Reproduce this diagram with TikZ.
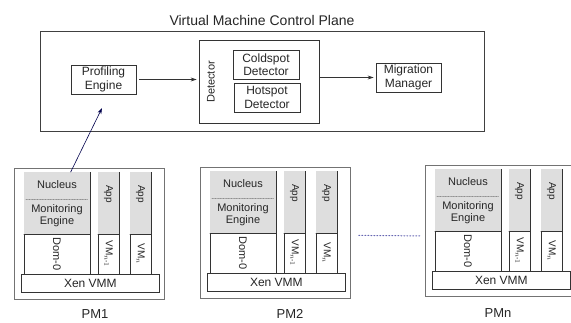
\documentclass[tikz,border=0pt]{standalone}
\usepackage{amsmath}
\usepackage{fontspec}
\setmainfont{Liberation Sans}
\usetikzlibrary{calc, arrows.meta}

\begin{document}
\begin{tikzpicture}[
  x=1pt, y=-1pt,
  line cap=round,
  every node/.style={text=black!85, inner sep=0pt},
  blk/.style={draw=black!80, line width=0.7pt, align=center,
              font=\fontsize{12}{13.5}\selectfont},
  pmframe/.style={draw=black!55, line width=0.8pt},
  col/.style={draw=black!80, line width=0.7pt, fill=white},
  shade/.style={fill=black!13},
  vtext/.style={font=\fontsize{10}{12}\selectfont, rotate=-90},
  arr/.style={-{Stealth[length=6pt, width=4pt]}, line width=0.6pt, black!80},
]

% bounding box = reference size
\useasboundingbox (0,0) rectangle (571,322);

% control plane
\node[font=\fontsize{14}{16}\selectfont] (title) at (262,20) {Virtual Machine Control Plane};
\node[draw=black!75, line width=0.8pt, minimum width=444pt, minimum height=100pt] (plane) at (262,81) {};

\node[blk, minimum width=65pt, minimum height=29pt] (prof) at (103.5,79.5) {Profiling\\Engine};
\node[draw=black!80, line width=0.7pt, minimum width=120pt, minimum height=83pt] (det) at (259,81.5) {};
\node[blk, minimum width=66pt, minimum height=29pt] (cold) at (266,64.5) {Coldspot\\Detector};
\node[blk, minimum width=66pt, minimum height=29pt] (hot) at (267,97.5) {Hotspot\\Detector};
\node[font=\fontsize{11}{13}\selectfont, rotate=90] (detlabel) at (211,82) {Detector};
\node[blk, minimum width=65pt, minimum height=29pt] (mig) at (408.5,77.5) {Migration\\Manager};

\draw[arr, shorten <=3pt, shorten >=2pt] (prof) -- (prof -| det.west);
\draw[arr, shorten >=2pt] (det.east |- mig) -- (mig);

% physical machines
\foreach \ox/\oy/\pm/\lx/\ly in {14/168/1/95/314, 200/167/2/290/314, 425/165/n/498/313} {
  \begin{scope}[shift={(\ox,\oy)}]
    \node[pmframe, anchor=north west, minimum width=150pt, minimum height=131pt] (pm\pm) at (0,0) {};
    % Dom-0
    \node[col, anchor=north west, minimum width=66pt, minimum height=102pt] (dom\pm) at (10,4) {};
    \fill[shade] (10.4,4.4) rectangle (75.6,66);
    \draw[line width=0.7pt, black!80] (10,66) -- (76,66);
    \draw[densely dotted, black!45, line width=0.6pt] (12,31) -- (74,31);
    \node[font=\fontsize{11}{12}\selectfont] (nuc\pm) at (43,17) {Nucleus};
    \node[font=\fontsize{11}{12}\selectfont, align=center] (mon\pm) at (43,48) {Monitoring\\Engine};
    \node[vtext, font=\fontsize{11}{12}\selectfont] (domtxt\pm) at (43,86) {Dom-0};
    % guest VMs
    \node[col, anchor=north west, minimum width=21pt, minimum height=102pt] (vma\pm) at (84,4) {};
    \fill[shade] (84.4,4.4) rectangle (104.6,66);
    \draw[line width=0.7pt, black!80] (84,66) -- (105,66);
    \node[vtext] (appa\pm) at (94.5,26) {App};
    \node[vtext] (vmatxt\pm) at (94.5,86) {VM$_{n\text{-}1}$};
    \node[col, anchor=north west, minimum width=21pt, minimum height=102pt] (vmb\pm) at (116,4) {};
    \fill[shade] (116.4,4.4) rectangle (136.6,66);
    \draw[line width=0.7pt, black!80] (116,66) -- (137,66);
    \node[vtext] (appb\pm) at (126.5,26) {App};
    \node[vtext] (vmbtxt\pm) at (126.5,86) {VM$_{n}$};
    % hypervisor
    \node[col, anchor=north west, minimum width=138pt, minimum height=18pt,
          font=\fontsize{12}{13}\selectfont] (xen\pm) at (7,106) {Xen VMM};
  \end{scope}
  \node[font=\fontsize{13}{15}\selectfont] (pmlabel\pm) at (\lx,\ly) {PM\pm};
}

% monitoring data goes up to the profiling engine
\coordinate (probe) at (102,108);
\draw[arr, black!70!blue] ($(dom1.north west)!0.7!(dom1.north east)$) -- (probe);

% more machines
\draw[dotted, line width=1pt, black!50!blue!60] ($(pm2.east)+(8,2.5)$) -- ($(pmn.west)+(-5,5)$);

\end{tikzpicture}
\end{document}
